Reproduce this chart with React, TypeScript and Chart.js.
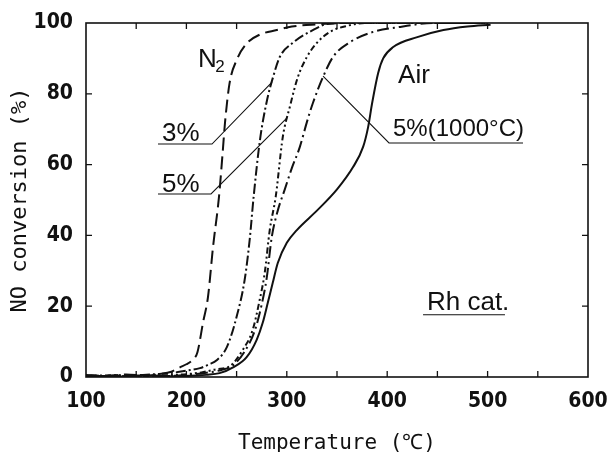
import { useEffect, useRef } from 'react';
import { Chart, registerables } from 'chart.js';

Chart.register(...registerables);

// ---- Data (temperature in °C, NO conversion in %) ----
const n2Temp = [100, 120, 140, 160, 175, 184, 194, 200, 206, 211, 216.5, 221.5, 226.5, 232.5, 236, 238.5, 243, 250, 260, 273, 290, 305, 330, 360, 420, 480];
const n2Conv = [0.6, 0.3, 0.7, 0.4, 0.9, 1.4, 2.8, 3.6, 4.8, 7, 15.3, 22.6, 36.7, 51, 63, 72, 83, 89.5, 94.2, 96.7, 98, 99, 99.6, 100, 100, 100];

const o3Temp = [100, 130, 150, 170, 184, 200, 213.5, 222, 230.5, 240.4, 250, 258, 263, 267, 273.3, 280.3, 286.3, 293, 306, 326, 340, 360, 420, 500];
const o3Conv = [0.4, 0.2, 0.5, 0.8, 1.1, 1.8, 2.5, 3.5, 4.8, 8.5, 17, 27.4, 38.7, 51, 67, 78.2, 84.7, 90.4, 94.4, 98, 99.7, 100, 100, 100];

const o5Temp = [100, 130, 160, 180, 200, 215, 230, 243, 256, 266, 273, 278, 283, 289, 296, 303, 311, 320, 330, 343, 360, 380, 440, 500];
const o5Conv = [0.3, 0.5, 0.2, 0.5, 0.8, 1.3, 2.2, 3, 7.6, 13.3, 21.8, 29.4, 41.5, 51, 67.8, 76.3, 84.7, 90.4, 94.4, 97.5, 99.2, 100, 100, 100];

const o5hTemp = [100, 140, 180, 200, 220, 235, 246, 258, 268, 275, 280, 285, 291, 298, 305, 313, 320, 326, 336, 346, 363, 386, 413, 446, 500];
const o5hConv = [0.2, 0.4, 0.3, 0.6, 1.2, 2, 3.2, 7.2, 13, 20.5, 28, 39.5, 47, 53, 59, 65, 72, 77.4, 84.7, 90.4, 94.6, 97.5, 98.9, 100, 100];

const airTemp = [100, 130, 160, 190, 210, 220, 233, 247, 260, 270, 276, 281, 286, 291, 300, 310, 330, 350, 366, 376, 381, 385, 391, 396, 406, 430, 456, 480, 503];
const airConv = [0.3, 0.1, 0.4, 0.2, 0.4, 0.6, 1.1, 2.8, 5.6, 10.5, 15.3, 20.9, 26.6, 32.2, 37.9, 41.5, 47, 53, 59.3, 65, 70.6, 77.4, 85.9, 90, 93.2, 96, 98, 99, 99.5];

const seriesNames = ['N2', '3%', '5%', '5%(1000°C)', 'Air'];
const xLabelValues = [100, 200, 300, 400, 500, 600];
const xTitle = 'Temperature (℃)';
const yTitle = 'NO conversion (%)';

// ---- Annotations (data coordinates) ----
type Txt = { text: string; x: number; y: number; size: number };
const labelTexts: Txt[] = [
  { text: 'N', x: 211.6, y: 87.6, size: 26 },
  { text: '2', x: 228.8, y: 86.2, size: 17 },
  { text: '3%', x: 175.7, y: 66.7, size: 26 },
  { text: '5%', x: 175.7, y: 52.3, size: 26 },
  { text: 'Air', x: 410.8, y: 83.1, size: 26 },
  { text: '5%(1000°C)', x: 405.8, y: 68.1, size: 24 },
  { text: 'Rh cat.', x: 439.6, y: 18.9, size: 26 },
];
const leaderLines: [number, number][][] = [
  [[171.7, 65.8], [225.5, 65.8], [285.3, 83.3]],
  [[171.7, 51.7], [224.5, 51.7], [300.2, 73.2]],
  [[336.1, 85.0], [401.8, 66.1], [535.3, 66.1]],
  [[435.7, 17.6], [517.3, 17.6]],
];

const toPoints = (xs: number[], ys: number[]) => xs.map((x, i) => ({ x, y: ys[i] }));

const INK = '#111';
const TICK_FONT = "'Liberation Sans Narrow', 'DejaVu Sans Condensed', 'DejaVu Sans', sans-serif";
const MONO_FONT = "'DejaVu Sans Mono', 'Liberation Mono', monospace";
const LABEL_FONT = "'Liberation Sans', Arial, sans-serif";

const framePlugin = {
  id: 'frameAndNotes',
  afterDatasetsDraw(chart: any) {
    const { ctx, chartArea: a, scales } = chart;
    const xs = scales.x;
    const ys = scales.y;
    ctx.save();
    ctx.strokeStyle = INK;
    ctx.lineWidth = 1.6;
    ctx.strokeRect(a.left, a.top, a.right - a.left, a.bottom - a.top);
    ctx.lineWidth = 1.3;
    ctx.beginPath();
    const tl = 6;
    xs.ticks.forEach((t: any) => {
      if (t.value <= xs.min || t.value >= xs.max) return;
      const px = xs.getPixelForValue(t.value);
      ctx.moveTo(px, a.bottom);
      ctx.lineTo(px, a.bottom - tl);
      ctx.moveTo(px, a.top);
      ctx.lineTo(px, a.top + tl);
    });
    ys.ticks.forEach((t: any) => {
      if (t.value <= ys.min || t.value >= ys.max) return;
      const py = ys.getPixelForValue(t.value);
      ctx.moveTo(a.left, py);
      ctx.lineTo(a.left + tl, py);
      ctx.moveTo(a.right, py);
      ctx.lineTo(a.right - tl, py);
    });
    ctx.stroke();

    // leader lines
    ctx.lineWidth = 1.1;
    leaderLines.forEach((pts) => {
      ctx.beginPath();
      pts.forEach(([vx, vy], i) => {
        const px = xs.getPixelForValue(vx);
        const py = ys.getPixelForValue(vy);
        if (i === 0) ctx.moveTo(px, py);
        else ctx.lineTo(px, py);
      });
      ctx.stroke();
    });

    // texts
    ctx.fillStyle = INK;
    ctx.textBaseline = 'alphabetic';
    ctx.textAlign = 'left';
    labelTexts.forEach((t) => {
      ctx.font = `${t.size}px ${LABEL_FONT}`;
      ctx.fillText(t.text, xs.getPixelForValue(t.x), ys.getPixelForValue(t.y));
    });
    ctx.restore();
  },
};

export default function App() {
  const ref = useRef<HTMLCanvasElement | null>(null);

  useEffect(() => {
    if (!ref.current) return;
    const common = {
      borderColor: INK,
      borderWidth: 2,
      pointRadius: 0,
      fill: false,
      cubicInterpolationMode: 'monotone' as const,
    };
    const chart = new Chart(ref.current, {
      type: 'line',
      data: {
        datasets: [
          { ...common, label: seriesNames[0], data: toPoints(n2Temp, n2Conv), borderDash: [13, 6] },
          { ...common, label: seriesNames[1], data: toPoints(o3Temp, o3Conv), borderDash: [10, 3, 2, 3] },
          { ...common, label: seriesNames[2], data: toPoints(o5Temp, o5Conv), borderDash: [6, 3, 2, 3, 2, 3] },
          { ...common, label: seriesNames[3], data: toPoints(o5hTemp, o5hConv), borderDash: [12, 4, 2, 4] },
          { ...common, label: seriesNames[4], data: toPoints(airTemp, airConv) },
        ],
      },
      options: {
        animation: false,
        responsive: true,
        maintainAspectRatio: false,
        layout: { padding: { top: 23, right: 20, left: 0, bottom: 0 } },
        plugins: { legend: { display: false }, tooltip: { enabled: false } },
        scales: {
          x: {
            type: 'linear',
            min: 100,
            max: 600,
            afterFit: (s: any) => {
              s.height = 75;
              s.paddingLeft = 0;
              s.paddingRight = 0;
            },
            grid: { display: false, drawTicks: false },
            border: { display: false },
            ticks: {
              stepSize: 50,
              autoSkip: false,
              maxRotation: 0,
              padding: 12,
              color: INK,
              font: { family: TICK_FONT, size: 21, weight: 'bold' },
              callback: (v: any) => (xLabelValues.includes(Number(v)) ? String(v) : ''),
            },
            title: {
              display: true,
              text: xTitle,
              color: INK,
              font: { family: MONO_FONT, size: 21, lineHeight: 0.8 },
              padding: { top: 0, bottom: 0 },
            },
          },
          y: {
            type: 'linear',
            min: 0,
            max: 100,
            afterFit: (s: any) => {
              s.width = 86;
              s.paddingTop = 0;
              s.paddingBottom = 0;
            },
            grid: { display: false, drawTicks: false },
            border: { display: false },
            ticks: {
              stepSize: 20,
              padding: 13,
              color: INK,
              font: { family: TICK_FONT, size: 21, weight: 'bold' },
            },
            title: {
              display: true,
              text: yTitle,
              color: INK,
              font: { family: MONO_FONT, size: 22, lineHeight: 1.2 },
              padding: { top: 7, bottom: 0 },
            },
          },
        },
      },
      plugins: [framePlugin],
    });
    return () => chart.destroy();
  }, []);

  return (
    <div style={{ position: 'fixed', left: 0, top: 0, width: 608, height: 452, background: '#fff' }}>
      <canvas ref={ref} />
    </div>
  );
}
